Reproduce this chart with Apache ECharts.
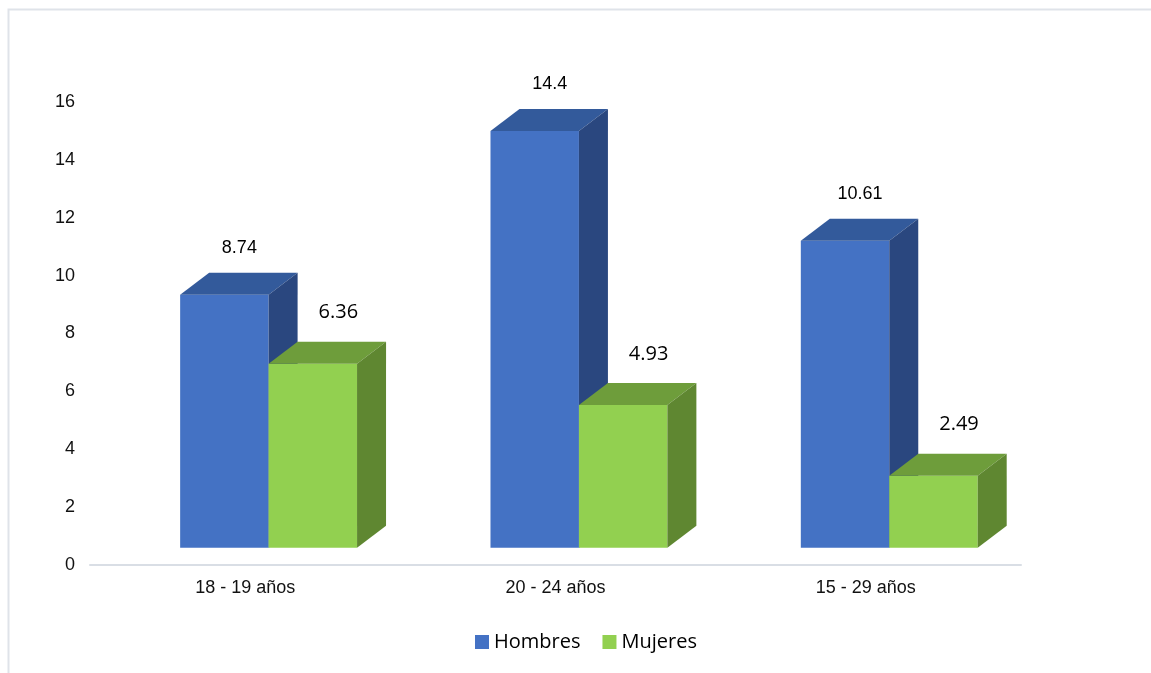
<!DOCTYPE html>
<html>
<head>
<meta charset="utf-8">
<script src="https://cdn.jsdelivr.net/npm/echarts@6/dist/echarts.min.js"></script>
<style>
html,body{margin:0;padding:0;background:#fff;}
#chart{width:1151px;height:673px;}
</style>
</head>
<body>
<div id="chart"></div>
<script>
const categories = ['18 - 19 años', '20 - 24 años', '15 - 29 años'];
const hombres = [8.74, 14.4, 10.61];
const mujeres = [6.36, 4.93, 2.49];
const seriesNames = ['Hombres', 'Mujeres'];

const palette = {
  Hombres: { front: '#4472C4', top: '#335A9B', side: '#2A477F', label: { font: '18px "Liberation Sans", Arial, sans-serif', dx: 15, gap: 25 } },
  Mujeres: { front: '#92D050', top: '#6E9D3B', side: '#5F8731', label: { font: '20px "Open Sans", sans-serif', dx: 25.5, gap: 29 } }
};

const LIFT = 17.3, DX = 29, DY = 22;

function makeRender(seriesIdx, name) {
  const st = palette[name];
  return function (params, api) {
    const cat = api.value(0);
    const val = api.value(1);
    const c0 = api.coord([cat, 0]);
    const cv = api.coord([cat, val]);
    const catW = api.size([1, 0])[0];
    const w = catW * 0.285;
    const left = c0[0] - catW * 0.2095 + seriesIdx * w;
    const botY = c0[1] - LIFT;
    const topY = cv[1] - LIFT;
    const right = left + w;
    return {
      type: 'group',
      children: [
        { type: 'rect', shape: { x: left, y: topY, width: w, height: botY - topY }, style: { fill: st.front } },
        { type: 'polygon', shape: { points: [[left, topY], [left + DX, topY - DY], [right + DX, topY - DY], [right, topY]] }, style: { fill: st.top } },
        { type: 'polygon', shape: { points: [[right, topY], [right + DX, topY - DY], [right + DX, botY - DY], [right, botY]] }, style: { fill: st.side } },
        { type: 'text', style: { x: left + w / 2 + st.label.dx, y: topY - DY - st.label.gap, text: String(val), font: st.label.font, fill: '#000', align: 'center', verticalAlign: 'middle' } }
      ]
    };
  };
}

const chart = echarts.init(document.getElementById('chart'), null, { renderer: 'canvas' });
chart.setOption({
  animation: false,
  backgroundColor: '#fff',
  graphic: [{
    type: 'rect', left: 6, top: 7, z: -10, silent: true,
    shape: { width: 1170, height: 700 },
    style: { fill: 'none', stroke: '#DFE3E9', lineWidth: 2 }
  }],
  grid: { left: 90, right: 130, top: 102, bottom: 108, containLabel: false },
  legend: {
    left: 470, top: 627, itemWidth: 14, itemHeight: 14, itemGap: 22,
    icon: 'rect',
    data: seriesNames,
    textStyle: { fontFamily: '"Open Sans", sans-serif', fontSize: 20, color: '#000' }
  },
  xAxis: {
    type: 'category', data: categories,
    axisLine: { lineStyle: { color: '#D9DEE5', width: 2 } },
    axisTick: { show: false },
    axisLabel: { margin: 14, color: '#111', fontFamily: '"Liberation Sans", Arial, sans-serif', fontSize: 18 }
  },
  yAxis: {
    type: 'value', min: 0, max: 16, interval: 2,
    axisLine: { show: false }, axisTick: { show: false }, splitLine: { show: false },
    axisLabel: { margin: 15, color: '#111', fontFamily: '"Liberation Sans", Arial, sans-serif', fontSize: 18 }
  },
  series: [
    { type: 'custom', name: 'Hombres', clip: false, itemStyle: { color: palette.Hombres.front },
      renderItem: makeRender(0, 'Hombres'), data: hombres.map((v, i) => [i, v]) },
    { type: 'custom', name: 'Mujeres', clip: false, itemStyle: { color: palette.Mujeres.front },
      renderItem: makeRender(1, 'Mujeres'), data: mujeres.map((v, i) => [i, v]) }
  ]
});
</script>
</body>
</html>
